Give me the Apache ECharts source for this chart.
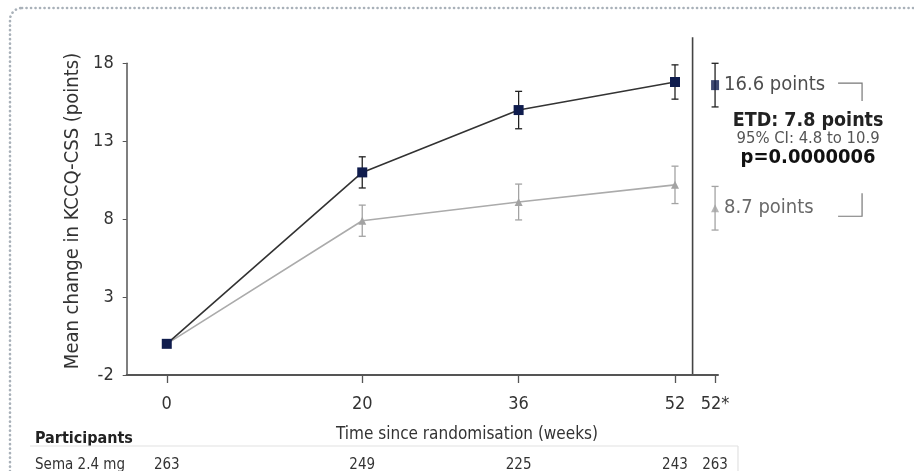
<!DOCTYPE html>
<html>
<head>
<meta charset="utf-8">
<script src="https://cdn.jsdelivr.net/npm/echarts@6/dist/echarts.min.js"></script>
<style>
  html, body { margin: 0; padding: 0; background: #ffffff; }
  #chart { width: 914px; height: 471px; }
</style>
</head>
<body>
<div id="chart"></div>
<script>
// Visit schedule (weeks since randomisation) and tick text
const weeks = [0, 20, 36, 52];
const weekLabels = ['0', '20', '36', '52'];
const endLabel = '52*';
const yTicks = [-2, 3, 8, 13, 18];

// Mean change in KCCQ-CSS (points) with half-width of the error bars
const semaMean = [0, 11.0, 15.0, 16.8];
const semaErr = [0, 1.0, 1.2, 1.1];
const placeboMean = [0, 7.9, 9.1, 10.2];
const placeboErr = [0, 1.0, 1.15, 1.2];

// End-of-treatment estimates (week 52*)
const semaEnd = 16.6;
const semaEndErr = 1.4;
const placeboEnd = 8.7;
const placeboEndErr = 1.4;

// Treatment difference annotation
const etdText = 'ETD: 7.8 points';
const ciText = '95% CI: 4.8 to 10.9';
const pText = 'p=0.0000006';

// Participants at each visit
const semaN = [263, 249, 225, 243];
const semaEndN = 263;

// Axis layout: where the 52* estimate and the divider sit on the week axis
const END_X = 56.1;
const DIVIDER_X = 53.8;

const FONT = '"DejaVu Sans Condensed", "DejaVu Sans", sans-serif';
const NAVY = '#0f1c4d';
const DARK = '#333333';
const GREY = '#a3a3a3';

const semaLine = weeks.map((w, i) => [w, semaMean[i]]);
const placeboLine = weeks.map((w, i) => [w, placeboMean[i]]);
const semaBars = weeks.map((w, i) => [w, semaMean[i] - semaErr[i], semaMean[i] + semaErr[i]])
  .filter(d => d[2] > d[1])
  .concat([[END_X, semaEnd - semaEndErr, semaEnd + semaEndErr]]);
const placeboBars = weeks.map((w, i) => [w, placeboMean[i] - placeboErr[i], placeboMean[i] + placeboErr[i]])
  .filter(d => d[2] > d[1])
  .concat([[END_X, placeboEnd - placeboEndErr, placeboEnd + placeboEndErr]]);

const tickValues = weeks.concat([END_X]);
const tickText = {};
weeks.forEach((w, i) => { tickText[w] = weekLabels[i]; });
tickText[END_X] = endLabel;

function errorBars(color) {
  return function (params, api) {
    const x = api.value(0);
    const top = api.coord([x, api.value(2)]);
    const bot = api.coord([x, api.value(1)]);
    const w = 3.5;
    const style = { stroke: color, lineWidth: 1.3 };
    return {
      type: 'group',
      children: [
        { type: 'line', shape: { x1: top[0], y1: top[1], x2: bot[0], y2: bot[1] }, style },
        { type: 'line', shape: { x1: top[0] - w, y1: top[1], x2: top[0] + w, y2: top[1] }, style },
        { type: 'line', shape: { x1: bot[0] - w, y1: bot[1], x2: bot[0] + w, y2: bot[1] }, style }
      ]
    };
  };
}

const chart = echarts.init(document.getElementById('chart'), null, { renderer: 'canvas' });

chart.setOption({
  animation: false,
  backgroundColor: '#ffffff',
  textStyle: { fontFamily: FONT },
  grid: { left: 126.7, right: 196, top: 63.3, bottom: 96, containLabel: false },
  xAxis: {
    type: 'value',
    min: -4.1,
    max: 56.4,
    splitLine: { show: false },
    axisLine: { show: true, onZero: false, lineStyle: { color: '#555', width: 2 } },
    axisTick: { show: true, customValues: tickValues, length: 8, lineStyle: { color: '#555', width: 1.3 } },
    axisLabel: {
      customValues: tickValues,
      formatter: v => tickText[v] !== undefined ? tickText[v] : '',
      margin: 20,
      fontSize: 18,
      color: '#333',
      fontFamily: FONT
    }
  },
  yAxis: {
    type: 'value',
    min: yTicks[0],
    max: yTicks[yTicks.length - 1],
    interval: 5,
    splitLine: { show: false },
    axisLine: { show: true, onZero: false, lineStyle: { color: '#555', width: 1.5 } },
    axisTick: { show: true, length: 4, lineStyle: { color: '#555' } },
    axisLabel: { margin: 13, fontSize: 18, color: '#333', fontFamily: FONT }
  },
  series: [
    {
      type: 'custom', name: 'Placebo CI', renderItem: errorBars(GREY), data: placeboBars,
      encode: { x: 0, y: [1, 2] }, clip: false, z: 1, silent: true
    },
    {
      type: 'line', name: 'Placebo', data: placeboLine, symbol: 'triangle', symbolSize: 8,
      itemStyle: { color: GREY }, lineStyle: { color: '#ababab', width: 1.6 }, z: 2
    },
    {
      type: 'custom', name: 'Sema CI', renderItem: errorBars('#222'), data: semaBars,
      encode: { x: 0, y: [1, 2] }, clip: false, z: 3, silent: true
    },
    {
      type: 'line', name: 'Sema 2.4 mg', data: semaLine, symbol: 'rect', symbolSize: 10,
      itemStyle: { color: NAVY }, lineStyle: { color: DARK, width: 1.6 }, z: 4
    },
    {
      type: 'scatter', name: 'Placebo end', data: [[END_X, placeboEnd]], symbol: 'triangle', symbolSize: 8,
      itemStyle: { color: GREY }, clip: false, z: 4,
      label: {
        show: true, position: 'right', distance: 5,
        formatter: p => p.value[1].toFixed(1) + ' points',
        fontSize: 20, color: '#444', fontFamily: FONT
      }
    },
    {
      type: 'scatter', name: 'Sema end', data: [[END_X, semaEnd]], symbol: 'rect', symbolSize: [8, 10],
      itemStyle: { color: NAVY }, clip: false, z: 5,
      label: {
        show: true, position: 'right', distance: 5,
        formatter: p => p.value[1].toFixed(1) + ' points',
        fontSize: 20, color: '#222', fontFamily: FONT
      }
    }
  ]
});

// Annotations, divider, axis titles and participant counts, placed from the axes
const px = (x, y) => chart.convertToPixel({ gridIndex: 0 }, [x, y]);
const origin = px(0, -2);
const divTop = px(DIVIDER_X, 18);
const divBot = px(DIVIDER_X, -2);
const sEnd = px(END_X, semaEnd);
const pEnd = px(END_X, placeboEnd);
const axisY = origin[1];
const bx0 = sEnd[0] + 123, bx1 = sEnd[0] + 147;
const annX = sEnd[0] + 93;

const graphics = [
  // dotted frame
  {
    type: 'rect', shape: { x: 10, y: 8, width: 930, height: 490, r: 12 }, silent: true,
    style: { fill: null, stroke: '#a9b1b9', lineWidth: 2.6, lineDash: [0.1, 4.4], lineCap: 'round' }
  },
  // divider before the end-of-treatment estimate
  {
    type: 'line', shape: { x1: divTop[0], y1: divTop[1] - 26, x2: divBot[0], y2: divBot[1] },
    style: { stroke: '#444', lineWidth: 1.6 }
  },
  // brackets linking the two estimates
  {
    type: 'polyline', shape: { points: [[bx0, sEnd[1] - 2], [bx1, sEnd[1] - 2], [bx1, sEnd[1] + 16]] },
    style: { stroke: '#777', lineWidth: 1.2, fill: null }
  },
  {
    type: 'polyline', shape: { points: [[bx1, pEnd[1] - 15], [bx1, pEnd[1] + 8], [bx0, pEnd[1] + 8]] },
    style: { stroke: '#777', lineWidth: 1.2, fill: null }
  },
  {
    type: 'text', x: annX, y: 121,
    style: { text: etdText, font: 'bold 19.5px ' + FONT, fill: '#222', align: 'center', verticalAlign: 'middle' }
  },
  {
    type: 'text', x: annX, y: 139,
    style: { text: ciText, font: '16.5px ' + FONT, fill: '#555', align: 'center', verticalAlign: 'middle' }
  },
  {
    type: 'text', x: annX, y: 158,
    style: { text: pText, font: 'bold 20px ' + FONT, fill: '#111', align: 'center', verticalAlign: 'middle' }
  },
  // axis titles
  {
    type: 'text', x: 73, y: 211, rotation: Math.PI / 2,
    style: { text: 'Mean change in KCCQ-CSS (points)', font: '20px ' + FONT, fill: '#333', align: 'center', verticalAlign: 'middle' }
  },
  {
    type: 'text', x: 467, y: axisY + 60,
    style: { text: 'Time since randomisation (weeks)', font: '17px ' + FONT, fill: '#333', align: 'center', verticalAlign: 'middle' }
  },
  // participants table
  {
    type: 'text', x: 35, y: axisY + 64,
    style: { text: 'Participants', font: 'bold 16px ' + FONT, fill: '#222', align: 'left', verticalAlign: 'middle' }
  },
  {
    type: 'line', shape: { x1: 30, y1: axisY + 71, x2: 738, y2: axisY + 71 },
    style: { stroke: '#e2e2e2', lineWidth: 1.2 }
  },
  {
    type: 'line', shape: { x1: 738, y1: axisY + 71, x2: 738, y2: 480 },
    style: { stroke: '#e2e2e2', lineWidth: 1.2 }
  },
  {
    type: 'text', x: 35, y: axisY + 90,
    style: { text: 'Sema 2.4 mg', font: '15px ' + FONT, fill: '#333', align: 'left', verticalAlign: 'middle' }
  }
];

weeks.forEach((w, i) => {
  graphics.push({
    type: 'text', x: px(w, 0)[0], y: axisY + 90,
    style: { text: String(semaN[i]), font: '15px ' + FONT, fill: '#333', align: 'center', verticalAlign: 'middle' }
  });
});
graphics.push({
  type: 'text', x: px(END_X, 0)[0], y: axisY + 90,
  style: { text: String(semaEndN), font: '15px ' + FONT, fill: '#333', align: 'center', verticalAlign: 'middle' }
});

chart.setOption({ graphic: { elements: graphics } });
</script>
</body>
</html>
